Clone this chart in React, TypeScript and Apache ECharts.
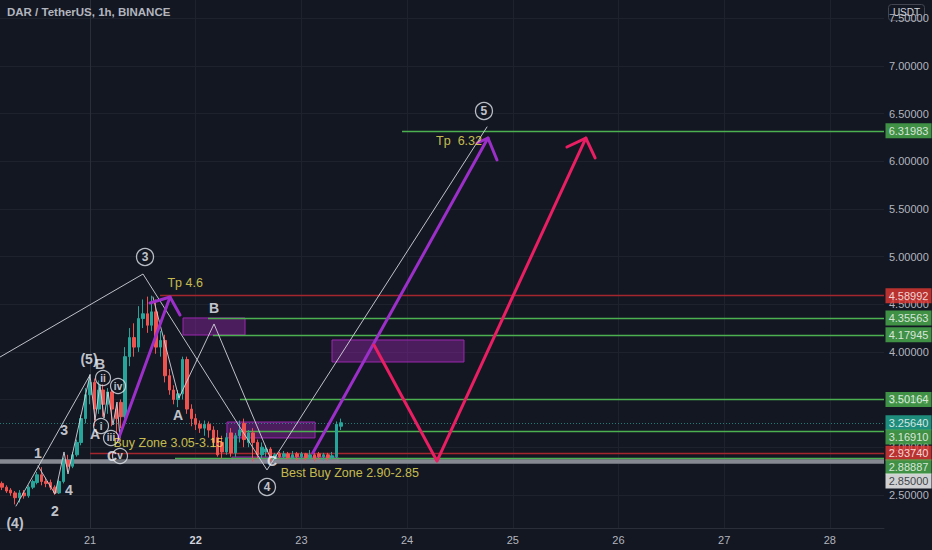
import { useEffect, useRef } from "react";
import * as echarts from "echarts";

// ---------- axes ----------
const DAY_TICKS = [0, 24, 48, 72, 96, 120, 144, 168]; // hours since day 21 00:00
const DAY_LABELS = ["21", "22", "23", "24", "25", "26", "27", "28"];
const PRICE_TICKS = [2.5, 3, 3.5, 4, 4.5, 5, 5.5, 6, 6.5, 7, 7.5];
const X_MIN = -20.44;
const X_MAX = 180.3;
const Y_MIN = 2.152;
const Y_MAX = 7.6925;

// ---------- 1h candles (first candle at hour -20) ----------
const FIRST_HOUR = -20;
const OPEN = [2.62, 2.58, 2.55, 2.52, 2.47, 2.52, 2.49, 2.58, 2.63, 2.71, 2.64, 2.63, 2.58, 2.52, 2.64, 2.86, 2.8, 2.92, 3.05, 3.3,
  3.55, 3.68, 3.4, 3.6, 3.45, 3.58, 3.4, 3.47, 3.32, 3.95, 4.15, 4.05, 4.35, 4.4, 4.28, 4.42, 4.05, 4.12, 3.75, 3.6,
  3.5, 3.56, 3.92, 3.4, 3.3, 3.24, 3.2, 3.24, 3.18, 3.1, 3.05, 2.95, 3.15, 2.94, 3.12, 3.25, 3.05, 3.15, 3.05, 2.92,
  2.95, 2.98, 2.88, 2.93, 2.9, 2.93, 2.89, 2.93, 2.9, 2.93, 2.89, 2.92, 2.93, 2.9, 2.92, 2.89, 2.9, 3.22];
const CLOSE = [2.58, 2.54, 2.52, 2.47, 2.52, 2.49, 2.58, 2.64, 2.71, 2.64, 2.62, 2.58, 2.52, 2.64, 2.86, 2.8, 2.92, 3.05, 3.3, 3.55,
  3.68, 3.4, 3.6, 3.45, 3.58, 3.4, 3.3, 3.32, 3.95, 4.15, 4.05, 4.35, 4.4, 4.28, 4.42, 4.05, 4.12, 3.75, 3.6, 3.5,
  3.56, 3.92, 3.4, 3.3, 3.24, 3.2, 3.24, 3.18, 3.05, 2.92, 2.95, 3.1, 2.94, 3.12, 3.18, 3.08, 3.15, 3.05, 2.92, 3.0,
  2.98, 2.88, 2.92, 2.9, 2.93, 2.89, 2.92, 2.9, 2.93, 2.89, 2.92, 2.88, 2.9, 2.92, 2.89, 2.91, 3.24, 3.2564];
const LOW = [2.55, 2.52, 2.49, 2.4, 2.42, 2.46, 2.47, 2.56, 2.61, 2.6, 2.58, 2.55, 2.5, 2.51, 2.62, 2.74, 2.78, 2.9, 3.02, 3.25,
  3.45, 3.22, 3.35, 3.32, 3.35, 3.22, 3.14, 3.2, 3.3, 3.85, 3.95, 4.0, 4.25, 4.2, 4.22, 3.98, 3.95, 3.68, 3.55, 3.45,
  3.42, 3.5, 3.35, 3.22, 3.18, 3.15, 3.12, 3.1, 3.0, 2.9, 2.88, 2.92, 2.9, 2.9, 3.05, 3.0, 3.0, 2.85, 2.88, 2.88,
  2.9, 2.85, 2.86, 2.88, 2.88, 2.87, 2.87, 2.86, 2.88, 2.86, 2.87, 2.85, 2.87, 2.86, 2.86, 2.87, 2.88, 3.18];
const HIGH = [2.64, 2.6, 2.57, 2.54, 2.55, 2.55, 2.6, 2.66, 2.74, 2.79, 2.68, 2.66, 2.6, 2.66, 2.89, 2.92, 2.95, 3.08, 3.34, 3.62,
  3.76, 3.72, 3.7, 3.66, 3.62, 3.6, 3.45, 3.5, 4.05, 4.25, 4.3, 4.48, 4.55, 4.58, 4.59, 4.55, 4.22, 4.18, 3.82, 3.65,
  3.6, 3.95, 3.95, 3.45, 3.35, 3.28, 3.28, 3.27, 3.22, 3.18, 3.12, 3.15, 3.2, 3.15, 3.28, 3.3, 3.18, 3.2, 3.08, 3.05,
  3.02, 3.0, 2.94, 2.95, 2.96, 2.95, 2.96, 2.95, 2.95, 2.94, 2.97, 2.94, 2.95, 2.94, 2.94, 2.95, 3.27, 3.3];
const LAST_PRICE = 3.2564;

// ---------- horizontal levels ----------
const LEVEL_PRICES = [6.31983, 4.58992, 4.35563, 4.17945, 3.50164, 3.1691, 2.9374, 2.88887, 2.85];
const LEVEL_START = [70.85, 15.9, 26.8, 27.9, 34.06, 34.06, 0, 19.3, -20.44];
const LEVEL_KIND = ["g", "r", "g", "g", "g", "g", "r", "g", "w"];

// ---------- price tags ----------
const TAG_PRICES = [6.31983, 4.58992, 4.35563, 4.17945, 3.50164, 3.2564, 3.1691, 2.9374, 2.88887, 2.85];
const TAG_KIND = ["g", "r", "g", "g", "g", "t", "g", "r", "g", "w"];
const TAG_SHIFT = [0, 0, 0, 0, 0, 0, 6, 0, 9, 19.5];

// ---------- zones (hour1, price1, hour2, price2) ----------
const ZONES = [
  [21.12, 4.356, 35.2, 4.177],
  [54.95, 4.125, 84.92, 3.894],
  [31.1, 3.264, 51.1, 3.097],
  [32.24, 2.897, 56.3, 2.845],
];

// ---------- wave drawings [hour, price] ----------
const WAVE_MAIN = [[-20.44, 3.946], [12.03, 4.817], [40.19, 2.761], [90.15, 6.36]];
const WAVE_ABC = [[14.3, 4.576], [20.2, 3.516], [28.16, 4.293], [40.87, 2.897]];
const WAVE_LEG = [[-16.8, 2.383], [0, 3.758]];
const WAVE_SUB = [[-11.8, 2.803], [-7.95, 2.509], [-5.9, 2.95], [-5.0, 2.719], [0, 3.758]];
const WAVE_CORR = [[0, 3.758], [1.14, 3.285], [2.27, 3.653], [3.18, 3.306], [4.09, 3.579], [5.22, 3.233], [6.13, 3.474], [6.81, 3.097]];
const PURPLE1 = [[6.36, 3.076], [18.17, 4.576]];
const PURPLE1_HEAD = [[13.62, 4.513], [18.17, 4.576], [20.44, 4.387]];
const PURPLE2 = [[50.6, 2.939], [90.37, 6.244]];
const PURPLE2_HEAD = [[87.88, 6.192], [90.37, 6.244], [92.42, 6.014]];
const PINK = [[64.49, 4.072], [78.79, 2.855], [112.6, 6.244]];
const PINK_HEAD = [[108.3, 6.15], [112.6, 6.244], [114.7, 6.035]];

// ---------- texts ----------
const NOTE_TEXTS = ["Tp 4.6", "Tp  6.32", "Buy Zone 3.05-3.15", "Best Buy Zone 2.90-2.85"];
const NOTE_POS = [[21.6, 4.723], [83.8, 6.213], [17.8, 3.044], [59.0, 2.729]];
const WAVE_TEXTS = ["B", "A", "C", "1", "2", "3", "4", "(4)", "(5)", "B", "A", "C"];
const WAVE_TEXT_POS = [[28.16, 4.461], [19.98, 3.338], [41.33, 2.855], [-11.81, 2.939], [-7.95, 2.331], [-5.9, 3.18],
  [-4.77, 2.551], [-17.03, 2.205], [-0.23, 3.925], [2.27, 3.873], [1.14, 3.139], [5.0, 2.908]];
const CIRCLE_TEXTS = ["3", "4", "5"];
const CIRCLE_POS = [[12.49, 4.996], [40.19, 2.582], [89.46, 6.528]];
const ROMAN_TEXTS = ["ii", "iv", "i", "iii", "v"];
const ROMAN_POS = [[2.95, 3.726], [6.36, 3.642], [2.5, 3.222], [4.77, 3.097], [6.81, 2.908]];

const BG = "#131722";
const GREEN = "#4caf50";
const DARKRED = "#a3262f";
const UP = "#26a69a";
const DOWN = "#ef5350";
const FONT = "Liberation Sans";

export default function App() {
  const ref = useRef<HTMLDivElement>(null);

  useEffect(() => {
    document.body.style.margin = "0";
    document.body.style.background = BG;
    const chart = echarts.init(ref.current!, undefined, { renderer: "svg" });

    const candles = OPEN.map((o, i) => [FIRST_HOUR + i, o, CLOSE[i], LOW[i], HIGH[i]]);

    const levelColor = (k: string) => (k === "g" ? GREEN : k === "r" ? DARKRED : "#8c8f98");
    const markLines: any[] = LEVEL_PRICES.map((p, i) => [
      {
        coord: [LEVEL_START[i], p],
        lineStyle: {
          color: levelColor(LEVEL_KIND[i]),
          width: LEVEL_KIND[i] === "w" ? 4.5 : 1.4,
          type: "solid",
          opacity: LEVEL_KIND[i] === "w" ? 0.95 : 1,
        },
      },
      { coord: [X_MAX, p] },
    ]);
    markLines.push([
      { coord: [X_MIN, LAST_PRICE], lineStyle: { color: UP, width: 1, type: [1, 2], opacity: 0.7 } },
      { coord: [X_MAX, LAST_PRICE] },
    ]);

    const lineSeries = (data: number[][], color: string, width: number, opacity = 1) => ({
      type: "line",
      data,
      showSymbol: false,
      symbol: "none",
      silent: true,
      z: 5,
      lineStyle: { color, width, opacity, cap: "round", join: "round" },
    });

    const tagColor: Record<string, string> = { g: GREEN, r: "#e53935", t: "#22ab94", w: "#ffffff" };

    const option: any = {
      animation: false,
      backgroundColor: BG,
      grid: { left: 0, right: 48, top: 0, bottom: 22 },
      xAxis: {
        type: "value",
        min: X_MIN,
        max: X_MAX,
        axisLine: { show: true, lineStyle: { color: "#2a2e39" } },
        axisTick: { show: false, customValues: DAY_TICKS },
        splitLine: { show: true, lineStyle: { color: "#1e222d" } },
        axisLabel: {
          customValues: DAY_TICKS,
          color: "#b2b5be",
          fontFamily: FONT,
          fontSize: 11,
          margin: 6,
          formatter: (v: number) => {
            const s = DAY_LABELS[DAY_TICKS.indexOf(Math.round(v))] ?? "";
            return s === "22" ? `{b|${s}}` : s;
          },
          rich: { b: { color: "#d1d4dc", fontWeight: "bold", fontFamily: FONT, fontSize: 11 } },
        },
      },
      yAxis: {
        type: "value",
        position: "right",
        min: Y_MIN,
        max: Y_MAX,
        axisLine: { show: true, lineStyle: { color: "#2a2e39" } },
        axisTick: { show: false, customValues: PRICE_TICKS },
        splitLine: { show: true, lineStyle: { color: "#1e222d" } },
        axisLabel: {
          customValues: PRICE_TICKS,
          color: "#b2b5be",
          fontFamily: FONT,
          fontSize: 11,
          margin: 5,
          formatter: (v: number) => v.toFixed(5),
        },
      },
      graphic: [
        {
          type: "text",
          left: 7,
          top: 6,
          style: { text: "DAR / TetherUS, 1h, BINANCE", fill: "#b2b5be", font: `bold 11.5px "${FONT}"` },
          z: 100,
        },
        {
          type: "group",
          left: 888,
          top: 4,
          z: 100,
          children: [
            { type: "rect", shape: { x: 0, y: 0, width: 36, height: 16, r: 3 }, style: { fill: BG, stroke: "#434651", lineWidth: 1 } },
            { type: "text", style: { x: 18, y: 8, text: "USDT", fill: "#d1d4dc", font: `10px "${FONT}"`, align: "center", verticalAlign: "middle" } },
          ],
        },
      ],
      series: [
        {
          type: "candlestick",
          data: candles,
          encode: { x: 0, y: [1, 2, 3, 4] },
          barWidth: 3,
          z: 3,
          itemStyle: { color: UP, color0: DOWN, borderColor: UP, borderColor0: DOWN, borderWidth: 1 },
          markLine: { silent: true, symbol: "none", label: { show: false }, data: markLines, z: 2 },
          markArea: {
            silent: true,
            itemStyle: { color: "rgba(156,39,176,0.42)", borderColor: "#9c27b0", borderWidth: 1 },
            data: ZONES.map((z) => [{ coord: [z[0], z[1]] }, { coord: [z[2], z[3]] }]),
          },
        },
        lineSeries(WAVE_MAIN, "#d1d4dc", 1, 0.9),
        lineSeries(WAVE_ABC, "#d1d4dc", 1, 0.9),
        lineSeries(WAVE_LEG, "#d1d4dc", 1, 0.9),
        lineSeries(WAVE_SUB, "#d1d4dc", 1, 0.9),
        lineSeries(WAVE_CORR, "#d1d4dc", 1, 0.9),
        lineSeries(PURPLE1, "#9c2fc9", 3),
        lineSeries(PURPLE1_HEAD, "#9c2fc9", 3),
        lineSeries(PURPLE2, "#9c2fc9", 3),
        lineSeries(PURPLE2_HEAD, "#9c2fc9", 3),
        lineSeries(PINK, "#e91e63", 3),
        lineSeries(PINK_HEAD, "#e91e63", 3),
        {
          type: "scatter",
          silent: true,
          z: 8,
          symbolSize: 0,
          data: NOTE_TEXTS.map((t, i) => ({ value: NOTE_POS[i], name: t })),
          label: {
            show: true,
            position: "inside",
            formatter: (p: any) => p.name,
            color: "#f5e65c",
            fontFamily: FONT,
            fontSize: 12.5,
          },
        },
        {
          type: "scatter",
          silent: true,
          z: 8,
          symbolSize: 0,
          data: WAVE_TEXTS.map((t, i) => ({ value: WAVE_TEXT_POS[i], name: t })),
          label: {
            show: true,
            position: "inside",
            formatter: (p: any) => p.name,
            color: "#f0f3fa",
            fontFamily: FONT,
            fontWeight: "bold",
            fontSize: 14,
          },
        },
        {
          type: "scatter",
          silent: true,
          z: 8,
          symbol: "circle",
          symbolSize: 17,
          itemStyle: { color: "rgba(19,23,34,0.3)", borderColor: "#e0e3eb", borderWidth: 1.3 },
          data: CIRCLE_TEXTS.map((t, i) => ({ value: CIRCLE_POS[i], name: t })),
          label: {
            show: true,
            position: "inside",
            formatter: (p: any) => p.name,
            color: "#f0f3fa",
            fontFamily: FONT,
            fontWeight: "bold",
            fontSize: 12,
          },
        },
        {
          type: "scatter",
          silent: true,
          z: 8,
          symbol: "circle",
          symbolSize: 15,
          itemStyle: { color: "rgba(19,23,34,0.3)", borderColor: "#e0e3eb", borderWidth: 1.2 },
          data: ROMAN_TEXTS.map((t, i) => ({ value: ROMAN_POS[i], name: t })),
          label: {
            show: true,
            position: "inside",
            formatter: (p: any) => p.name,
            color: "#f0f3fa",
            fontFamily: FONT,
            fontWeight: "bold",
            fontSize: 10,
          },
        },
        {
          type: "scatter",
          silent: true,
          clip: false,
          z: 20,
          symbol: "rect",
          symbolSize: [46, 15],
          data: TAG_PRICES.map((p, i) => ({
            value: [X_MAX, p],
            symbolOffset: [24.5, TAG_SHIFT[i]],
            itemStyle: { color: tagColor[TAG_KIND[i]] },
            label: { color: TAG_KIND[i] === "w" ? "#131722" : "#ffffff" },
          })),
          label: {
            show: true,
            position: "inside",
            formatter: (p: any) => (p.value[1] as number).toFixed(5),
            fontFamily: FONT,
            fontSize: 11,
          },
        },
      ],
    };

    chart.setOption(option);
    return () => chart.dispose();
  }, []);

  return <div ref={ref} style={{ width: 932, height: 550 }} />;
}
